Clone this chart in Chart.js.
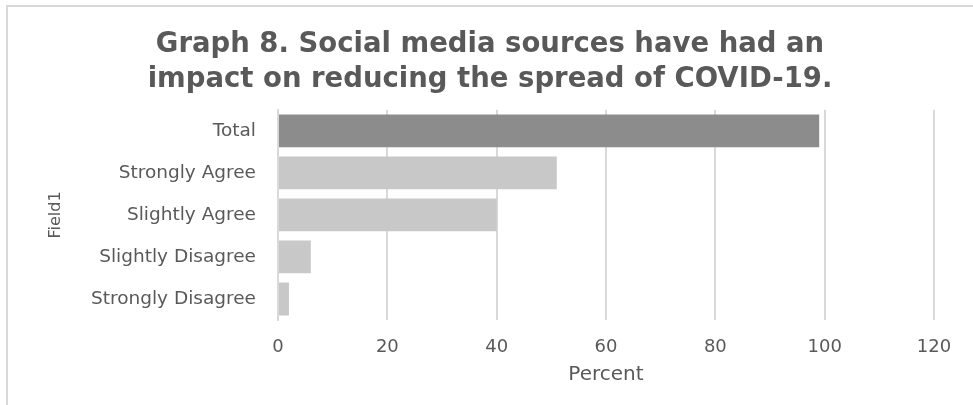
<!DOCTYPE html>
<html>
<head>
<meta charset="utf-8">
<script src="https://cdn.jsdelivr.net/npm/chart.js@4"></script>
<style>
  html, body { margin: 0; padding: 0; background: #fff; }
  #wrap { width: 973px; height: 405px; position: relative; }
</style>
</head>
<body>
<div id="wrap"><canvas id="chart" width="973" height="405"></canvas></div>
<script>
// Survey responses, percent of respondents
const categories = ['Total', 'Strongly Agree', 'Slightly Agree', 'Slightly Disagree', 'Strongly Disagree'];
const percents = [99, 51, 40, 6, 2];
const barColors = ['#8c8c8c', '#c8c8c8', '#c8c8c8', '#c8c8c8', '#c8c8c8'];
const xTicks = [0, 20, 40, 60, 80, 100, 120];

const titleLines = [
    'Graph 8. Social media sources have had an',
    'impact on reducing the spread of COVID-19.'
];

const FONT = "'DejaVu Sans', sans-serif";
const TEXT = '#595959';
const GRID = '#d9d9d9';

// light frame around the chart box (top and left edges)
const framePlugin = {
    id: 'frame',
    beforeDraw(chart) {
        const ctx = chart.ctx;
        ctx.save();
        ctx.strokeStyle = GRID;
        ctx.lineWidth = 2;
        ctx.beginPath();
        ctx.moveTo(7, 405);
        ctx.lineTo(7, 6);
        ctx.lineTo(973, 6);
        ctx.stroke();
        ctx.restore();
    }
};

new Chart(document.getElementById('chart'), {
    type: 'bar',
    data: {
        labels: categories,
        datasets: [{
            label: 'Percent',
            data: percents,
            backgroundColor: barColors,
            borderWidth: 0,
            categoryPercentage: 1,
            barPercentage: 0.78
        }]
    },
    options: {
        indexAxis: 'y',
        responsive: false,
        animation: false,
        layout: { padding: { top: 0, left: 46, right: 39, bottom: 8 } },
        plugins: {
            legend: { display: false },
            tooltip: { enabled: false },
            title: {
                display: true,
                text: titleLines,
                color: TEXT,
                font: { family: FONT, size: 27.5, weight: 'bold', lineHeight: 1.27 },
                padding: { top: 27, bottom: 13 }
            }
        },
        scales: {
            x: {
                min: 0,
                max: 120,
                afterBuildTicks(scale) {
                    scale.ticks = xTicks.map(v => ({ value: v }));
                },
                afterFit(scale) { scale.height = 77; },
                grid: { color: GRID, lineWidth: 2, drawTicks: false },
                border: { display: false },
                ticks: {
                    color: TEXT,
                    padding: 17,
                    font: { family: FONT, size: 18 }
                },
                title: {
                    display: true,
                    text: 'Percent',
                    color: TEXT,
                    font: { family: FONT, size: 20 },
                    padding: { top: 4, bottom: 10 }
                }
            },
            y: {
                afterFit(scale) { scale.width = 232; },
                grid: { display: false, drawTicks: false },
                border: { display: true, color: GRID, width: 2 },
                ticks: {
                    color: TEXT,
                    padding: 22,
                    font: { family: FONT, size: 18.5 }
                },
                title: {
                    display: true,
                    text: 'Field1',
                    color: TEXT,
                    font: { family: FONT, size: 16 },
                    padding: { top: 0, bottom: 0 }
                }
            }
        }
    },
    plugins: [framePlugin]
});
</script>
</body>
</html>
